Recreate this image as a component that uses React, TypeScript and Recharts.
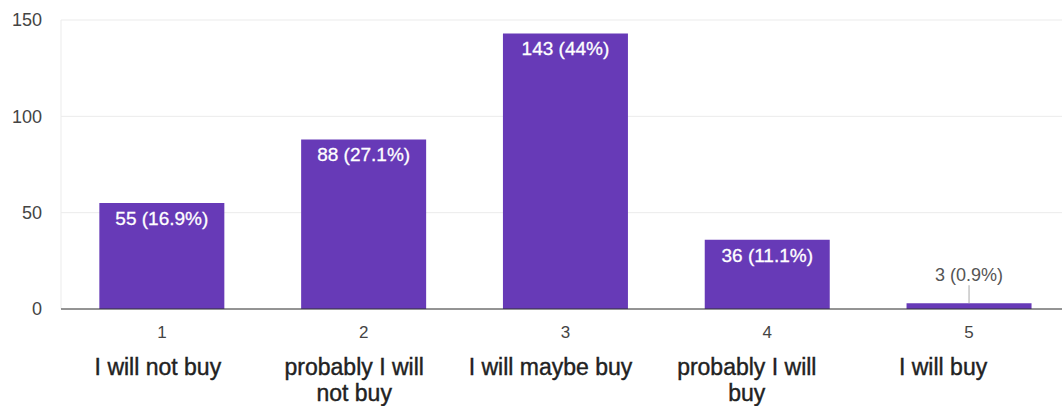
import { Bar, BarChart, CartesianGrid, LabelList, XAxis, YAxis } from 'recharts';

const codes = ['1', '2', '3', '4', '5'];
const answers = [
  ['I will not buy'],
  ['probably I will', 'not buy'],
  ['I will maybe buy'],
  ['probably I will', 'buy'],
  ['I will buy'],
];
const counts = [55, 88, 143, 36, 3];
const shares = ['16.9%', '27.1%', '44%', '11.1%', '0.9%'];
const yTicks = [0, 50, 100, 150];

const data = codes.map((code, i) => ({
  code,
  count: counts[i],
  label: `${counts[i]} (${shares[i]})`,
}));

const FONT = 'Arial, "Liberation Sans", sans-serif';

function CategoryTick(props: any) {
  const { x, y, payload, index } = props;
  const lines = answers[index] ?? [];
  const shift = -4 - index * 5.5;
  return (
    <g>
      <text x={x} y={y + 21} textAnchor="middle" fontSize={17} fill="#444" fontFamily={FONT}>
        {payload.value}
      </text>
      {lines.map((line, k) => (
        <text
          key={k}
          x={x + shift}
          y={y + 58 + k * 26}
          textAnchor="middle"
          fontSize={23}
          fill="#222"
          stroke="#222"
          strokeWidth={0.4}
          fontFamily={FONT}
        >
          {line}
        </text>
      ))}
    </g>
  );
}

function BarLabel(props: any) {
  const { x, y, width, height, value } = props;
  const cx = x + width / 2;
  if (height < 24) {
    return (
      <g>
        <line x1={cx} x2={cx} y1={y - 18} y2={y} stroke="#aaa" strokeWidth={1} />
        <text x={cx} y={y - 22} textAnchor="middle" fontSize={18} fill="#555" fontFamily={FONT}>
          {value}
        </text>
      </g>
    );
  }
  return (
    <text
      x={cx}
      y={y + 22}
      textAnchor="middle"
      fontSize={19}
      fill="#fff"
      stroke="#fff"
      strokeWidth={0.3}
      fontFamily={FONT}
    >
      {value}
    </text>
  );
}

export default function App() {
  return (
    <div
      style={{
        position: 'absolute',
        left: 0,
        top: 0,
        width: 1062,
        height: 406,
        overflow: 'hidden',
        background: '#fff',
      }}
    >
      <BarChart
        width={1080}
        height={406}
        data={data}
        margin={{ top: 20, right: 10, bottom: 0, left: 0 }}
        barCategoryGap="19%"
      >
        <CartesianGrid vertical={false} stroke="#ebebeb" />
        <YAxis
          width={61}
          domain={[0, 150]}
          ticks={yTicks}
          interval={0}
          axisLine={{ stroke: '#ebebeb' }}
          tickLine={false}
          tick={{ fontSize: 18, fill: '#444', fontFamily: FONT }}
          tickMargin={13}
        />
        <XAxis
          dataKey="code"
          height={97}
          interval={0}
          axisLine={{ stroke: '#333' }}
          tickLine={false}
          tick={<CategoryTick />}
        />
        <Bar dataKey="count" fill="#673ab7" isAnimationActive={false}>
          <LabelList dataKey="label" content={<BarLabel />} />
        </Bar>
      </BarChart>
    </div>
  );
}
